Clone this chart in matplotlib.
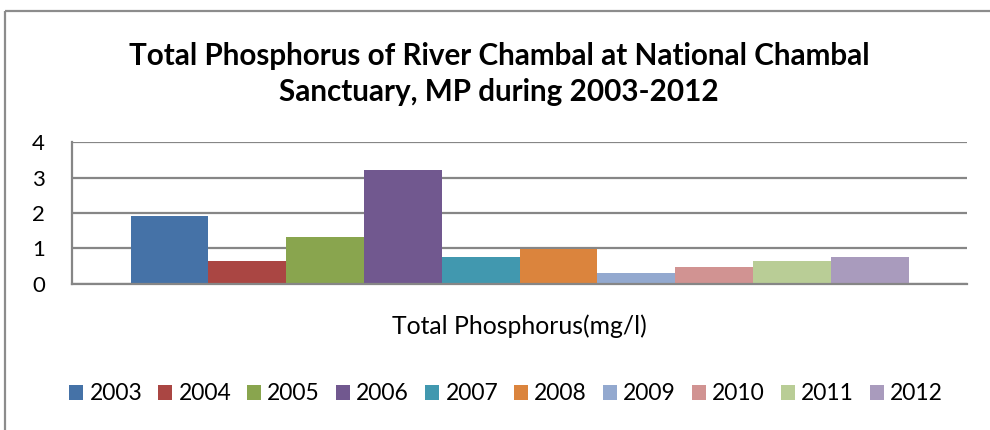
import matplotlib
matplotlib.use("Agg")
import matplotlib.pyplot as plt
from matplotlib.lines import Line2D
from matplotlib.patches import Patch

years = ["2003", "2004", "2005", "2006", "2007", "2008", "2009", "2010", "2011", "2012"]
phosphorus = [1.91, 0.63, 1.31, 3.22, 0.75, 0.97, 0.29, 0.46, 0.63, 0.75]
colors = ["#4572A7", "#AA4643", "#89A54E", "#71588F", "#4198AF",
          "#DB843D", "#93A9CF", "#D19392", "#B9CD96", "#A99BBD"]
category = "Total Phosphorus(mg/l)"
title = "Total Phosphorus of River Chambal at National Chambal\nSanctuary, MP during 2003-2012"
yticks = [0, 1, 2, 3, 4]

plt.rcParams["font.family"] = ["Lato", "DejaVu Sans"]
W, H = 990, 430
fig = plt.figure(figsize=(W / 100, H / 100), dpi=100)
fig.patch.set_facecolor("white")

# outer chart frame: only its top and left edges lie inside the canvas
frame_color = "#8C8C8C"
fig.add_artist(Line2D([5 / W, 5 / W], [0, 1 - 11 / H], transform=fig.transFigure,
                      color=frame_color, linewidth=1.6, solid_capstyle="butt"))
fig.add_artist(Line2D([5 / W, 1], [1 - 11 / H, 1 - 11 / H], transform=fig.transFigure,
                      color=frame_color, linewidth=1.6, solid_capstyle="butt"))

ax = fig.add_axes([72 / W, 1 - 283.5 / H, (967 - 72) / W, (283.5 - 142.3) / H])
grid_color = "#868686"

n = len(years)
group_width = 778 / 895
bw = group_width / n
start = 0.5 - group_width / 2
for i, (yr, v, c) in enumerate(zip(years, phosphorus, colors)):
    ax.bar(start + bw * (i + 0.5), v, width=bw, color=c, label=yr, zorder=3)

ax.set_xlim(0, 1)
ax.set_ylim(0, 4)
ax.set_yticks(yticks)
ax.set_yticklabels([str(t) for t in yticks], fontsize=16)
ax.set_xticks([])
ax.tick_params(axis="y", length=0, pad=24)
for lbl in ax.get_yticklabels():
    lbl.set_horizontalalignment("center")
ax.yaxis.grid(True, color=grid_color, linewidth=1.6, zorder=0)
for s in ["top", "right"]:
    ax.spines[s].set_visible(False)
for s in ["left", "bottom"]:
    ax.spines[s].set_color(grid_color)
    ax.spines[s].set_linewidth(1.6)
    ax.spines[s].set_zorder(4)

fig.text(519 / W, 1 - 326 / H, category, ha="center", va="center", fontsize=17.8)
fig.text(499 / W, 1 - 74 / H, title, ha="center", va="center",
         fontsize=21.3, fontweight="bold", linespacing=1.35)

handles = [Patch(facecolor=c, edgecolor="none") for c in colors]
fig.legend(handles, years, loc="center", bbox_to_anchor=(506 / W, 1 - 394 / H),
           ncol=n, frameon=False, fontsize=16.5, handlelength=0.62, handleheight=0.62,
           handletextpad=0.28, columnspacing=0.68, borderaxespad=0)

fig.savefig("out.png", dpi=100, facecolor="white")
